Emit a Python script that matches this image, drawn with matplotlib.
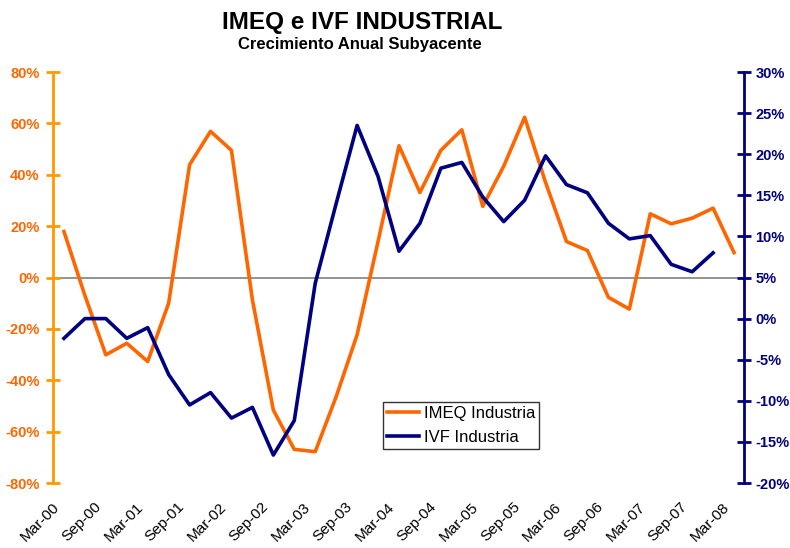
import matplotlib
matplotlib.use("Agg")
import matplotlib.pyplot as plt
from matplotlib.ticker import FuncFormatter
from matplotlib.transforms import ScaledTranslation

plt.rcParams['font.family'] = ['Liberation Sans', 'DejaVu Sans']

# quarters Mar-00 .. Mar-08
quarters = ["Mar-00", "Jun-00", "Sep-00", "Dec-00", "Mar-01", "Jun-01", "Sep-01", "Dec-01",
            "Mar-02", "Jun-02", "Sep-02", "Dec-02", "Mar-03", "Jun-03", "Sep-03", "Dec-03",
            "Mar-04", "Jun-04", "Sep-04", "Dec-04", "Mar-05", "Jun-05", "Sep-05", "Dec-05",
            "Mar-06", "Jun-06", "Sep-06", "Dec-06", "Mar-07", "Jun-07", "Sep-07", "Dec-07",
            "Mar-08"]

imeq = [17.9, -7.0, -30.1, -25.6, -32.7, -10.0, 43.9, 56.9,
        49.5, -8.7, -51.6, -66.9, -67.8, -46.4, -22.3, 14.0,
        51.3, 33.1, 49.5, 57.5, 27.7, 43.3, 62.4, 37.0,
        14.0, 10.5, -7.7, -12.3, 24.8, 20.9, 23.1, 27.0,
        9.7]

ivf = [-2.4, 0.0, 0.0, -2.4, -1.1, -6.8, -10.5, -9.0,
       -12.1, -10.8, -16.6, -12.4, 4.3, 14.0, 23.5, 17.3,
       8.2, 11.6, 18.3, 19.0, 14.8, 11.8, 14.4, 19.8,
       16.3, 15.3, 11.6, 9.7, 10.1, 6.6, 5.7, 8.0]

orange = "#FF6600"
orange_axis = "#FF9900"
navy = "#000080"

fig = plt.figure(figsize=(7.9, 5.48), dpi=100)
ax = fig.add_axes([0.0677, 0.1186, 0.8747, 0.75])
ax2 = ax.twinx()

x1 = list(range(len(imeq)))
x2 = list(range(len(ivf)))
l1, = ax.plot(x1, imeq, color=orange, lw=2.6, label="IMEQ Industria", zorder=3)
l2, = ax2.plot(x2, ivf, color=navy, lw=2.6, label="IVF Industria", zorder=3)

ax.axhline(0, color="#808080", lw=1.2, zorder=1)

ax.set_xlim(-0.5, len(quarters) - 0.5)
ax.set_ylim(-80, 80)
ax2.set_ylim(-20, 30)
ax.set_yticks(range(-80, 81, 20))
ax2.set_yticks(range(-20, 31, 5))
pct = FuncFormatter(lambda v, p: "%d%%" % v)
ax.yaxis.set_major_formatter(pct)
ax2.yaxis.set_major_formatter(pct)

ax.set_xticks(x1[::2])
ax.set_xticklabels(quarters[::2], rotation=45, ha='right', va='top',
                   rotation_mode='anchor', fontsize=11)
ax.tick_params(axis='x', length=0, pad=12)
shift = ScaledTranslation(-12 / 100, 0, fig.dpi_scale_trans)
for lbl in ax.get_xticklabels():
    lbl.set_transform(lbl.get_transform() + shift)

for s in ["top", "bottom", "right"]:
    ax.spines[s].set_visible(False)
for s in ["top", "bottom", "left"]:
    ax2.spines[s].set_visible(False)
ax.spines["left"].set_color(orange_axis)
ax.spines["left"].set_linewidth(2)
ax2.spines["right"].set_color(navy)
ax2.spines["right"].set_linewidth(2)

ax.tick_params(axis='y', colors=orange_axis, direction='inout', length=10, width=2,
               labelcolor=orange, labelsize=10.5, pad=5)
ax2.tick_params(axis='y', colors=navy, direction='inout', length=10, width=2,
                labelcolor=navy, labelsize=10.5, pad=3)
for t in ax.get_yticklabels() + ax2.get_yticklabels():
    t.set_fontweight('bold')

leg = ax.legend(handles=[l1, l2], loc='upper left', bbox_to_anchor=(383 / 790, 1 - 402 / 548),
                bbox_transform=fig.transFigure,
                frameon=True, fancybox=False, fontsize=12, handlelength=1.9,
                handletextpad=0.3, borderaxespad=0, borderpad=0.25, labelspacing=0.5)
leg.get_frame().set_edgecolor("black")
leg.get_frame().set_linewidth(1)
leg.set_zorder(5)

fig.text(362 / 790, 1 - 23 / 548, "IMEQ e IVF INDUSTRIAL", ha='center', va='center',
         fontsize=17.5, fontweight='bold')
fig.text(360 / 790, 1 - 45 / 548, "Crecimiento Anual Subyacente", ha='center', va='center',
         fontsize=12, fontweight='bold')

fig.savefig("out.png", dpi=100)
